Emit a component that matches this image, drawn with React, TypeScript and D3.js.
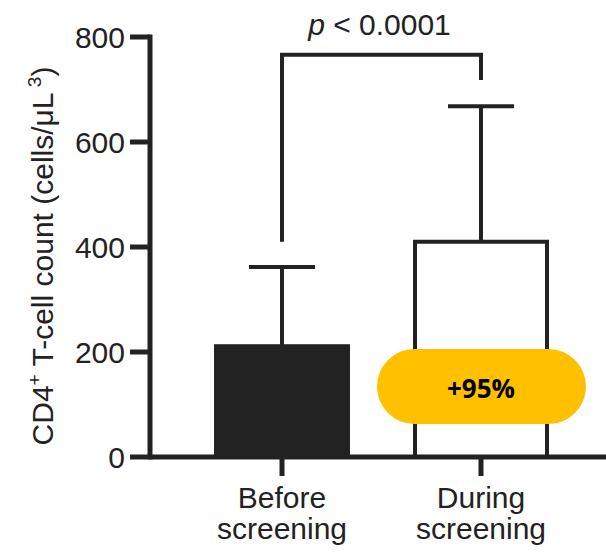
import { useEffect, useRef } from 'react'
import * as d3 from 'd3'

const categories = [['Before', 'screening'], ['During', 'screening']]
const means = [211, 410]
const errTops = [362, 668]
const yTicks = [0, 200, 400, 600, 800]
const fills = ['#222222', '#ffffff']
const pText = '< 0.0001'
const changeLabel = '+95%'

export default function App() {
  const svgRef = useRef<SVGSVGElement | null>(null)

  useEffect(() => {
    if (!svgRef.current) return
    const width = 606
    const height = 552
    const ink = '#222222'

    const svg = d3.select(svgRef.current)
    svg.selectAll('*').remove()
    svg.attr('width', width).attr('height', height)

    const y = d3.scaleLinear().domain([0, 800]).range([457, 37])
    const x = d3.scalePoint<number>().domain([0, 1]).range([282, 481])
    const barW = 132
    const capW = 66
    const axisX = 150

    const font = "'Liberation Sans', Arial, Helvetica, sans-serif"

    // bars
    svg
      .selectAll('.bar')
      .data(means)
      .enter()
      .append('rect')
      .attr('x', (d, i) => (x(i) as number) - barW / 2)
      .attr('y', d => y(d))
      .attr('width', barW)
      .attr('height', d => y(0) - y(d))
      .attr('fill', (d, i) => fills[i])
      .attr('stroke', ink)
      .attr('stroke-width', 4)

    // error bars
    means.forEach((m, i) => {
      const cx = x(i) as number
      svg.append('line')
        .attr('x1', cx).attr('x2', cx)
        .attr('y1', y(m)).attr('y2', y(errTops[i]))
        .attr('stroke', ink).attr('stroke-width', 4)
      svg.append('line')
        .attr('x1', cx - capW / 2).attr('x2', cx + capW / 2)
        .attr('y1', y(errTops[i])).attr('y2', y(errTops[i]))
        .attr('stroke', ink).attr('stroke-width', 4)
    })

    // significance bracket
    const bracketTop = y(766)
    const x0 = x(0) as number
    const x1 = x(1) as number
    svg.append('path')
      .attr('d', `M${x0},${y(410)} V${bracketTop} H${x1} V${y(718)}`)
      .attr('fill', 'none')
      .attr('stroke', ink)
      .attr('stroke-width', 4)

    const pt = svg.append('text')
      .attr('x', (x0 + x1) / 2 - 2)
      .attr('y', 35)
      .attr('text-anchor', 'middle')
      .style('font-family', font)
      .style('font-size', '30px')
      .attr('fill', ink)
    pt.append('tspan').style('font-style', 'italic').text('p')
    pt.append('tspan').text(' ' + pText)

    // y axis
    svg.append('line')
      .attr('x1', axisX).attr('x2', axisX)
      .attr('y1', y(800) - 2.5).attr('y2', y(0) + 2.5)
      .attr('stroke', ink).attr('stroke-width', 5)
    yTicks.forEach(t => {
      svg.append('line')
        .attr('x1', axisX - 20).attr('x2', axisX)
        .attr('y1', y(t)).attr('y2', y(t))
        .attr('stroke', ink).attr('stroke-width', 5)
      svg.append('text')
        .attr('x', axisX - 25)
        .attr('y', y(t))
        .attr('dy', '0.36em')
        .attr('text-anchor', 'end')
        .style('font-family', font)
        .style('font-size', '30px')
        .attr('fill', ink)
        .text(t)
    })

    // x axis
    svg.append('line')
      .attr('x1', axisX).attr('x2', width)
      .attr('y1', y(0)).attr('y2', y(0))
      .attr('stroke', ink).attr('stroke-width', 5)
    categories.forEach((lines, i) => {
      const cx = x(i) as number
      svg.append('line')
        .attr('x1', cx).attr('x2', cx)
        .attr('y1', y(0)).attr('y2', y(0) + 19)
        .attr('stroke', ink).attr('stroke-width', 5)
      const t = svg.append('text')
        .attr('x', cx)
        .attr('y', 508)
        .attr('text-anchor', 'middle')
        .style('font-family', font)
        .style('font-size', '30px')
        .attr('fill', ink)
      lines.forEach((l, j) => {
        t.append('tspan').attr('x', cx).attr('dy', j === 0 ? 0 : 31).text(l)
      })
    })

    // y axis title
    const yt = svg.append('text')
      .attr('transform', `translate(53, 256) rotate(-90)`)
      .attr('text-anchor', 'middle')
      .style('font-family', font)
      .style('font-size', '30px')
      .attr('fill', ink)
    yt.append('tspan').text('CD4')
    yt.append('tspan').attr('dy', -12).style('font-size', '19px').text('+')
    yt.append('tspan').attr('dy', 12).text(' T-cell count (cells/μL')
    yt.append('tspan').attr('dy', -12).style('font-size', '19px').text(' 3')
    yt.append('tspan').attr('dy', 12).text(')')

    // change badge
    const pillX = 377
    const pillY = 349
    const pillW = 209
    const pillH = 75
    svg.append('rect')
      .attr('x', pillX).attr('y', pillY)
      .attr('width', pillW).attr('height', pillH)
      .attr('rx', pillH / 2).attr('ry', pillH / 2)
      .attr('fill', '#FFC000')
    svg.append('text')
      .attr('x', x1)
      .attr('y', pillY + pillH / 2 + 2)
      .attr('dy', '0.36em')
      .attr('text-anchor', 'middle')
      .style('font-family', "'Open Sans', 'Noto Sans', sans-serif")
      .style('font-weight', 'bold')
      .style('font-size', '26px')
      .attr('fill', '#000')
      .text(changeLabel)
  }, [])

  return <svg ref={svgRef} style={{ position: 'absolute', left: 0, top: 0 }} />
}
